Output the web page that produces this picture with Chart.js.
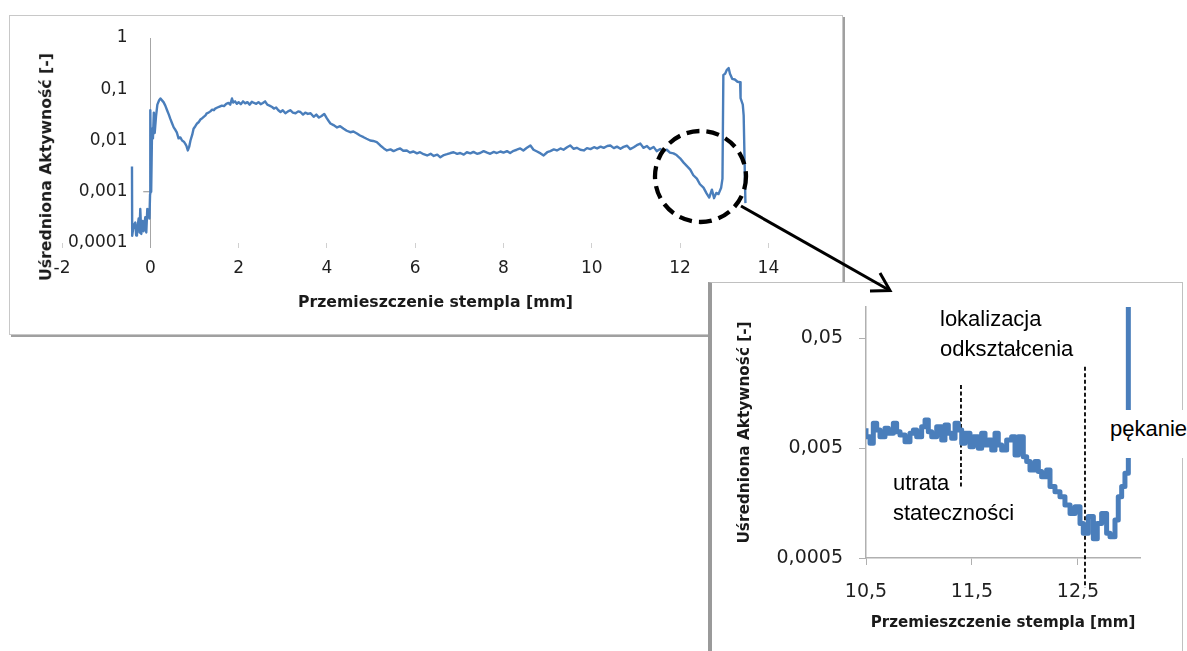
<!DOCTYPE html>
<html><head><meta charset="utf-8">
<script src="https://cdn.jsdelivr.net/npm/chart.js@4.4.1/dist/chart.umd.min.js"></script>
<style>
html,body{margin:0;padding:0;background:#fff;width:1187px;height:651px;overflow:hidden;position:relative;font-family:"DejaVu Sans",sans-serif;}
#mainBox{position:absolute;left:9px;top:15px;width:832px;height:318px;border:1px solid #c8c8c8;box-shadow:2px 2px 0 #a0a0a0;background:#fff;z-index:1}
canvas{position:absolute;left:0;top:0;}
#mainCanvas{z-index:2}
#insetBox{position:absolute;left:708px;top:282px;width:470px;height:400px;border:1px solid #c0c0c0;border-left:4px solid #9a9a9a;background:#fff;z-index:3}
#insetCanvas{z-index:4}
.ann{position:absolute;font-family:"Liberation Sans",Arial,sans-serif;font-size:22px;line-height:30px;color:#000;z-index:5;white-space:nowrap}
.ttl{position:absolute;font-family:"DejaVu Sans",sans-serif;font-weight:bold;font-size:15.7px;line-height:1;color:#1a1a1a;z-index:2;white-space:nowrap}
svg{position:absolute;left:0;top:0;z-index:6}
</style>
</head>
<body>
<div id="mainBox"></div>
<canvas id="mainCanvas" width="1187" height="651"></canvas>
<div class="ttl" id="mainYTitle" style="left:46px;top:167px;transform-origin:0 0;transform:rotate(-90deg) translate(-50%,-50%);">Uśredniona Aktywność [-]</div>
<div class="ttl" id="mainXTitle" style="left:435.5px;top:302px;transform:translate(-50%,-50%);">Przemieszczenie stempla [mm]</div>
<div id="insetBox"></div>
<canvas id="insetCanvas" width="1187" height="651"></canvas>
<div class="ann" style="left:940px;top:304px;">lokalizacja<br>odkształcenia</div>
<div class="ann" style="left:893px;top:468px;">utrata<br>stateczności</div>
<div class="ann" style="left:1107px;top:410px;padding:4px 10px 14px 3px;background:#fff;">pękanie</div>
<svg width="1187" height="651" viewBox="0 0 1187 651">
  <circle cx="700.5" cy="176.5" r="45.5" fill="none" stroke="#000" stroke-width="4.3" stroke-dasharray="13 7"/>
  <line x1="741" y1="206" x2="889" y2="290" stroke="#000" stroke-width="3"/>
  <polyline points="870,291 890,290.5 880,273" fill="none" stroke="#000" stroke-width="3"/>
</svg>
<script>
// ---- main chart data ----
const mainX = [-0.415,-0.41,-0.378,-0.34,-0.32,-0.302,-0.264,-0.245,-0.227,-0.204,-0.174,-0.151,-0.113,-0.091,-0.068,-0.038,-0.02,-0.005,
0.0,0.02,0.04,0.06,0.08,0.1,0.13,0.16,0.2,0.23,0.27,0.3,0.34,0.38,0.42,0.45,0.49,0.53,0.57,0.6,0.64,0.68,0.72,0.76,0.79,0.82,0.85,0.88,0.91,0.95,0.98,
1.02,1.06,1.1,1.14,1.17,1.21,1.25,1.28,1.32,1.36,1.4,1.44,1.47,1.52,1.57,1.62,1.67,1.72,1.77,1.81,1.85,1.88,1.92,1.96,
2.0,2.05,2.1,2.15,2.2,2.25,2.3,2.35,2.4,2.45,2.5,2.55,2.6,2.65,2.7,2.76,2.8,2.85,2.9,2.95,
3.0,3.06,3.12,3.17,3.23,3.29,3.35,3.4,3.46,3.51,3.57,3.63,3.7,3.76,3.82,3.88,3.94,
4.0,4.04,4.08,4.15,4.23,4.3,4.38,4.45,4.53,4.6,4.68,4.75,4.83,4.9,4.98,
5.05,5.13,5.21,5.29,5.36,5.44,5.51,5.58,5.66,5.73,5.81,5.88,5.96,
6.04,6.11,6.19,6.27,6.35,6.42,6.5,6.57,6.65,6.72,6.8,6.87,6.95,
7.02,7.1,7.17,7.25,7.32,7.4,7.47,7.55,7.63,7.7,7.78,7.85,7.93,
8.0,8.08,8.15,8.23,8.3,8.38,8.45,8.53,8.61,8.68,8.76,8.84,8.91,8.99,
9.06,9.14,9.21,9.29,9.36,9.44,9.51,9.59,9.66,9.74,9.82,9.89,9.97,
10.05,10.12,10.2,10.27,10.35,10.42,10.5,10.57,10.65,10.72,10.8,10.87,10.95,
11.02,11.1,11.17,11.25,11.32,11.4,11.47,11.55,11.62,11.7,11.77,11.85,11.92,
12.0,12.08,12.15,12.23,12.3,12.38,12.45,12.53,12.6,12.66,12.72,12.77,12.82,12.87,12.93,12.96,12.98,
13.02,13.06,13.1,13.13,13.18,13.24,13.3,13.36,13.37,13.42,13.44,13.48];
const mainY = [0.0031,0.000138,0.00022,0.00025,0.00014,0.00017,0.0003,0.00016,0.00046,0.00015,0.00027,0.00017,0.00032,0.00016,0.00046,0.00043,0.0003,0.0009,
0.039,0.001,0.017,0.011,0.035,0.014,0.03,0.05,0.061,0.066,0.06,0.056,0.048,0.039,0.032,0.027,0.022,0.018,0.016,0.0144,0.011,0.0115,0.01,0.0095,0.0087,0.0078,0.0064,0.0075,0.01,0.013,0.017,
0.019,0.0215,0.023,0.026,0.027,0.029,0.031,0.034,0.035,0.037,0.04,0.039,0.042,0.044,0.046,0.048,0.047,0.052,0.054,0.05,0.066,0.055,0.058,0.052,
0.056,0.051,0.058,0.053,0.056,0.05,0.057,0.054,0.052,0.056,0.051,0.054,0.058,0.05,0.048,0.045,0.042,0.044,0.039,0.036,
0.039,0.034,0.037,0.039,0.035,0.034,0.037,0.036,0.032,0.035,0.033,0.034,0.029,0.032,0.028,0.03,0.033,
0.027,0.024,0.0215,0.02,0.018,0.019,0.017,0.0155,0.0145,0.015,0.0137,0.0125,0.0116,0.0108,0.01,
0.0098,0.0093,0.008,0.007,0.0064,0.0067,0.0062,0.0066,0.007,0.0063,0.0064,0.0058,0.0061,
0.0056,0.0059,0.0054,0.0051,0.0055,0.005,0.0053,0.0047,0.0052,0.0054,0.0057,0.0059,0.0055,
0.0057,0.0053,0.0059,0.0056,0.006,0.0055,0.0057,0.0062,0.0058,0.0055,0.006,0.0057,0.0061,
0.0058,0.0062,0.0057,0.0063,0.0066,0.007,0.0064,0.0072,0.008,0.0066,0.0061,0.0056,0.0051,0.0059,
0.0062,0.0067,0.0064,0.007,0.0066,0.0074,0.008,0.0069,0.0072,0.0066,0.0064,0.0071,0.0068,
0.0074,0.007,0.0076,0.0072,0.0078,0.008,0.0071,0.0076,0.0069,0.0075,0.0079,0.0068,0.0074,
0.0081,0.0087,0.0072,0.0078,0.0068,0.0075,0.0062,0.0068,0.0063,0.0066,0.0058,0.0056,0.0052,
0.0045,0.0037,0.0032,0.0027,0.0021,0.0018,0.0014,0.0012,0.00093,0.00077,0.0011,0.00075,0.00095,0.0009,0.0012,0.0018,0.19,
0.2,0.24,0.26,0.2,0.16,0.155,0.14,0.137,0.067,0.05,0.031,0.0006];
const mainXTicks = [-2,0,2,4,6,8,10,12,14];
const mainXTickLabels = ['-2','0','2','4','6','8','10','12','14'];
const mainYTicks = [0.0001,0.001,0.01,0.1,1];
const mainYTickLabels = ['0,0001','0,001','0,01','0,1','1'];
const axisMarkX = [-0.16, 0];
const axisMarkY = [0.001, 0.001];

// ---- inset (zoom) chart data ----
const insetX = [10.5,10.538,10.569,10.601,10.632,10.679,10.711,10.758,10.789,10.821,10.868,10.915,10.947,10.978,
11.025,11.057,11.088,11.12,11.167,11.214,11.245,11.277,11.308,11.34,11.371,11.403,11.434,11.481,11.513,11.56,11.591,11.623,11.654,11.686,11.717,11.748,11.78,11.827,11.874,11.906,11.937,11.984,
12.016,12.047,12.094,12.126,12.157,12.204,12.236,12.283,12.33,12.377,12.425,12.472,12.519,12.55,12.597,12.645,12.682,12.723,12.77,12.802,12.849,12.88,12.912,12.943,12.975,12.991,13.05,13.1];
const insetY = [0.00755,0.00634,0.00551,0.00838,0.00729,0.00634,0.00755,0.0068,0.00838,0.00704,0.00656,0.00571,0.0068,0.00729,
0.00634,0.00781,0.00898,0.00704,0.00634,0.00781,0.00591,0.00809,0.0068,0.00612,0.00838,0.00729,0.00551,0.0068,0.00514,0.00634,0.00497,0.0068,0.00532,0.00591,0.0048,0.0068,0.00532,0.0048,0.00591,0.00634,0.00432,0.00634,
0.00417,0.00376,0.00316,0.00376,0.00305,0.00274,0.00316,0.00223,0.002,0.0018,0.00152,0.00127,0.00146,0.00103,0.00084,0.00119,0.00075,0.00103,0.00127,0.00084,0.00078,0.00111,0.0018,0.00223,0.00294,0.25,0.22,0.2];
const insetXTicks = [10.5,11.5,12.5];
const insetXTickLabels = ['10,5','11,5','12,5'];
const insetYTicks = [0.0005,0.005,0.05];
const insetYTickLabels = ['0,0005','0,005','0,05'];
const marker1X = [11.396, 11.396];
const marker1Y = [0.0187, 0.00221];
const marker2X = [12.566, 12.566];
const marker2Y = [0.0274, 0.000267];

const pts = (xs, ys) => xs.map((x, i) => ({x: x, y: ys[i]}));
Chart.defaults.font.family = 'DejaVu Sans';
const labelColor = '#1f1f1f';

new Chart(document.getElementById('mainCanvas'), {
  type: 'line',
  data: { datasets: [
    { data: pts(mainX, mainY), borderColor: '#4a7ebb', borderWidth: 2.4, pointRadius: 0, tension: 0, borderJoinStyle: 'round' },
    { data: pts(axisMarkX, axisMarkY), borderColor: '#8c8c8c', borderWidth: 1, pointRadius: 0 }
  ]},
  options: {
    responsive: false, animation: false, events: [],
    layout: { padding: { left: 62, right: 344, top: 38, bottom: 368 } },
    plugins: { legend: { display: false }, tooltip: { enabled: false } },
    scales: {
      x: {
        type: 'linear', min: -2, max: 15.69,
        afterBuildTicks: s => { s.ticks = mainXTicks.map(v => ({ value: v })); },
        afterFit: s => { s.height = 40; },
        grid: {
          drawOnChartArea: true, lineWidth: 1, tickLength: 5,
          color: c => (c.tick && c.tick.value === 0) ? '#a6a6a6' : 'rgba(0,0,0,0)',
          tickColor: c => (c.tick && c.tick.value === 0) ? '#a6a6a6' : '#d0d0d0'
        },
        border: { display: false },
        ticks: { padding: 10.8, autoSkip: false, maxRotation: 0, color: labelColor, font: { size: 17 },
                 callback: (v, i) => mainXTickLabels[i] }
      },
      y: {
        type: 'logarithmic', min: 0.0001, max: 1,
        afterBuildTicks: s => { s.ticks = mainYTicks.map(v => ({ value: v })); },
        afterFit: s => { s.width = 0; },
        grid: { display: false, drawTicks: false },
        border: { display: false },
        ticks: { mirror: true, crossAlign: 'far', padding: 6, autoSkip: false, color: labelColor, font: { size: 17 },
                 callback: (v, i) => mainYTickLabels[i] }
      }
    }
  }
});

const dashed = (xs, ys) => ({ data: pts(xs, ys), borderColor: '#000', borderWidth: 1.8, borderDash: [4, 2.5], pointRadius: 0, clip: false });

new Chart(document.getElementById('insetCanvas'), {
  type: 'line',
  data: { datasets: [
    { data: pts(insetX, insetY), borderColor: '#4a7ebb', borderWidth: 5, pointRadius: 0, stepped: 'after', borderJoinStyle: 'round' },
    dashed(marker1X, marker1Y),
    dashed(marker2X, marker2Y)
  ]},
  options: {
    responsive: false, animation: false, events: [],
    layout: { padding: { left: 732, right: 47, top: 307, bottom: 15 } },
    plugins: { legend: { display: false }, tooltip: { enabled: false } },
    scales: {
      x: {
        type: 'linear', min: 10.5, max: 13.085,
        afterBuildTicks: s => { s.ticks = insetXTicks.map(v => ({ value: v })); },
        afterFit: s => { s.height = 78; },
        grid: { drawOnChartArea: false, tickLength: 7, color: '#b0b0b0' },
        border: { color: '#b0b0b0', width: 1.5 },
        ticks: { padding: 15.6, autoSkip: false, maxRotation: 0, color: labelColor, font: { size: 19 },
                 callback: (v, i) => insetXTickLabels[i] },
        title: { display: true, text: 'Przemieszczenie stempla [mm]', color: '#1a1a1a',
                 font: { size: 15.1, weight: 'bold' }, padding: { top: 10, bottom: 4 } }
      },
      y: {
        type: 'logarithmic', min: 0.0005, max: 0.0957,
        afterBuildTicks: s => { s.ticks = insetYTicks.map(v => ({ value: v })); },
        afterFit: s => { s.width = 134; },
        grid: { drawOnChartArea: false, tickLength: 7, color: '#b0b0b0' },
        border: { color: '#b0b0b0', width: 1.5 },
        ticks: { padding: 16, autoSkip: false, color: labelColor, font: { size: 19 },
                 callback: (v, i) => insetYTickLabels[i] },
        title: { display: true, text: 'Uśredniona Aktywność [-]', color: '#1a1a1a',
                 font: { size: 15.3, weight: 'bold' }, padding: { top: 4, bottom: 22 } }
      }
    }
  }
});
</script>
</body></html>
